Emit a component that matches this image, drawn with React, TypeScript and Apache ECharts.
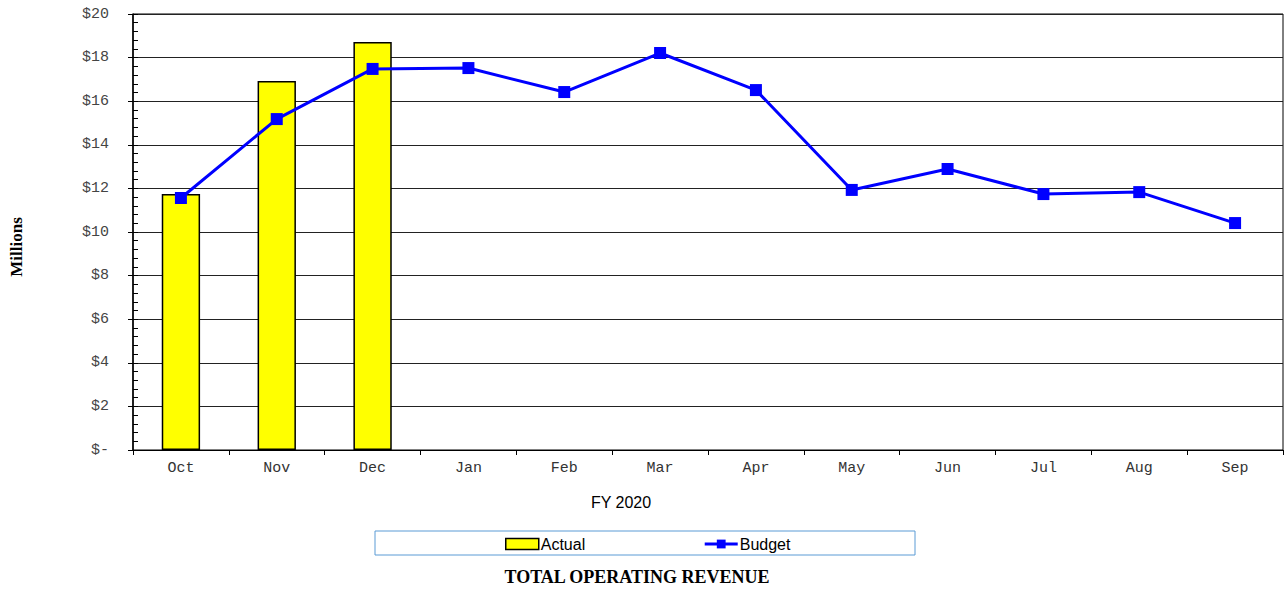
import React, { useEffect, useRef } from "react";
import * as echarts from "echarts";

const categories = ["Oct", "Nov", "Dec", "Jan", "Feb", "Mar", "Apr", "May", "Jun", "Jul", "Aug", "Sep"];
const actual: (number | null)[] = [11.74, 16.93, 18.72, null, null, null, null, null, null, null, null, null];
const budget = [11.56, 15.18, 17.48, 17.52, 16.42, 18.21, 16.51, 11.93, 12.89, 11.74, 11.83, 10.41];
const yMin = 0;
const yMax = 20;
const yInterval = 2;

export default function App() {
  const ref = useRef<HTMLDivElement>(null);
  useEffect(() => {
    if (!ref.current) return;
    const chart = echarts.init(ref.current, null, { renderer: "svg" });
    const mono = "'Liberation Mono', 'Courier New', monospace";
    const sans = "'Liberation Sans', Arial, sans-serif";
    const serif = "'Liberation Serif', 'Times New Roman', serif";
    chart.setOption({
      animation: false,
      backgroundColor: "#fff",
      grid: {
        left: 133,
        right: 1,
        top: 14,
        bottom: 139,
        show: true,
        borderColor: "#000",
        borderWidth: 1,
        backgroundColor: "#fff",
      },
      legend: {
        left: 500,
        top: 531,
        itemGap: 118,
        itemWidth: 33,
        itemHeight: 11,
        textStyle: { fontFamily: sans, fontSize: 16, color: "#000", padding: [0, 0, 0, -3] },
        data: [
          { name: "Actual", icon: "rect", itemStyle: { color: "#ffff00", borderColor: "#000", borderWidth: 1.5 } },
          { name: "Budget", lineStyle: { width: 3, color: "#0000ff" }, itemStyle: { color: "#0000ff" } },
        ],
      },
      graphic: [
        {
          type: "rect",
          shape: { x: 375, y: 531, width: 540, height: 24 },
          style: { fill: "none", stroke: "#5b9bd5", lineWidth: 1 },
          z: -1,
        },
        {
          type: "text",
          x: 621,
          y: 502,
          style: {
            text: "FY 2020",
            font: "16px " + sans,
            fill: "#000",
            textAlign: "center",
            textVerticalAlign: "middle",
          },
        },
        {
          type: "text",
          x: 637,
          y: 577,
          style: {
            text: "TOTAL OPERATING REVENUE",
            font: "bold 18px " + serif,
            fill: "#000",
            textAlign: "center",
            textVerticalAlign: "middle",
          },
        },
        {
          type: "text",
          x: 16,
          y: 247,
          rotation: Math.PI / 2,
          style: {
            text: "Millions",
            font: "bold 17px " + serif,
            fill: "#000",
            textAlign: "center",
            textVerticalAlign: "middle",
          },
        },
      ],
      xAxis: {
        type: "category",
        data: categories,
        boundaryGap: true,
        axisLine: { lineStyle: { color: "#000", width: 1 } },
        axisTick: { show: true, length: 5, alignWithLabel: false, lineStyle: { color: "#000" } },
        axisLabel: { fontFamily: mono, fontSize: 15, color: "#333", margin: 11 },
        splitLine: { show: false },
      },
      yAxis: [
        {
          type: "value",
          min: yMin,
          max: yMax,
          interval: yInterval,
          axisLine: { show: true, lineStyle: { color: "#000", width: 1.5 } },
          axisTick: { show: true, length: 5, lineStyle: { color: "#000" } },
          axisLabel: {
            fontFamily: mono,
            fontSize: 15,
            color: "#444",
            margin: 24,
            formatter: (v: number) => (v === 0 ? "$-" : "$" + v),
          },
          splitLine: { show: true, lineStyle: { color: "#222", width: 1 } },
        },
        {
          type: "value",
          min: yMin,
          max: yMax,
          interval: yInterval,
          position: "left",
          axisLine: { show: false },
          axisTick: { show: true, inside: true, length: 5, lineStyle: { color: "#000" } },
          minorTick: { show: true, splitNumber: 5, length: 5, lineStyle: { color: "#000" } },
          axisLabel: { show: false },
          splitLine: { show: false },
        },
      ],
      series: [
        {
          name: "Actual",
          type: "bar",
          yAxisIndex: 0,
          data: actual,
          barWidth: "40%",
          itemStyle: { color: "#ffff00", borderColor: "#000", borderWidth: 1.5 },
        },
        {
          name: "Budget",
          type: "line",
          yAxisIndex: 0,
          data: budget,
          symbol: "rect",
          symbolSize: 12,
          lineStyle: { color: "#0000ff", width: 3 },
          itemStyle: { color: "#0000ff" },
          z: 5,
        },
      ],
    });
    return () => chart.dispose();
  }, []);
  return (
    <div
      ref={ref}
      style={{ position: "absolute", left: 0, top: 0, width: 1284, height: 589 }}
    />
  );
}
